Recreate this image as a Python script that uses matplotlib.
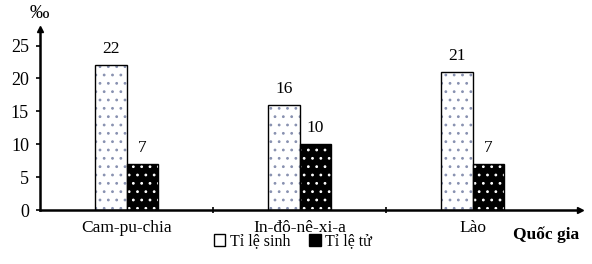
import matplotlib.pyplot as plt
from matplotlib.patches import Patch
import numpy as np

countries = ["Cam-pu-chia", "In-đô-nê-xi-a", "Lào"]
birth_rate = [22, 16, 21]
death_rate = [7, 10, 7]
series_names = ["Tỉ lệ sinh", "Tỉ lệ tử"]

plt.rcParams['font.family'] = ['Liberation Serif', 'DejaVu Serif']
plt.rcParams['hatch.linewidth'] = 0.8

fig = plt.figure(figsize=(5.92, 2.64), dpi=100)
ax = fig.add_axes([0.0676, 0.2045, 0.912, 0.685])

x = np.arange(len(countries))
w = 0.18

# birth bars: white with faint dots
ax.bar(x - w / 2, birth_rate, w, color="white", edgecolor="#8891b0", hatch="..", linewidth=0)
ax.bar(x - w / 2, birth_rate, w, color="none", edgecolor="black", linewidth=1)
# death bars: black with white dots
ax.bar(x + w / 2, death_rate, w, color="black", edgecolor="white", hatch="..", linewidth=0)
ax.bar(x + w / 2, death_rate, w, color="none", edgecolor="black", linewidth=1)

for i in range(len(countries)):
    ax.text(x[i] - w / 2, birth_rate[i] + 1.2, str(birth_rate[i]), ha="center", va="bottom", fontsize=12.5)
    ax.text(x[i] + w / 2, death_rate[i] + 1.2, str(death_rate[i]), ha="center", va="bottom", fontsize=12.5)

ax.set_xlim(-0.5, 2.62)
ax.set_ylim(0, 27.5)
ax.set_yticks([0, 5, 10, 15, 20, 25])
ax.set_xticks([0.5, 1.5])
ax.set_xticklabels([])
ax.tick_params(axis="y", labelsize=13, direction="out", length=3, width=1.2, pad=5)
ax.tick_params(axis="x", direction="inout", length=5, width=1.2)
for i, c in enumerate(countries):
    ax.text(x[i], -1.5, c, ha="center", va="top", fontsize=12.5)

for s in ["top", "right"]:
    ax.spines[s].set_visible(False)
ax.spines["left"].set_linewidth(1.8)
ax.spines["bottom"].set_linewidth(1.8)
ax.plot(0, 1, "^k", markersize=5, transform=ax.transAxes, clip_on=False)
ax.plot(1, 0, ">k", markersize=5, transform=ax.transAxes, clip_on=False)

fig.text(0.066, 0.915, "‰", ha="center", va="bottom", fontsize=14)
fig.text(0.922, 0.11, "Quốc gia", ha="center", va="center", fontsize=12.5, fontweight="bold")

handles = [Patch(facecolor="white", edgecolor="black", linewidth=1),
           Patch(facecolor="black", edgecolor="black", linewidth=1)]
fig.legend(handles, series_names, loc="center", bbox_to_anchor=(0.495, 0.085), ncol=2,
           frameon=False, fontsize=11.5, handlelength=0.7, handleheight=0.7,
           handletextpad=0.3, columnspacing=1.2)

fig.savefig("out.png", dpi=100)
